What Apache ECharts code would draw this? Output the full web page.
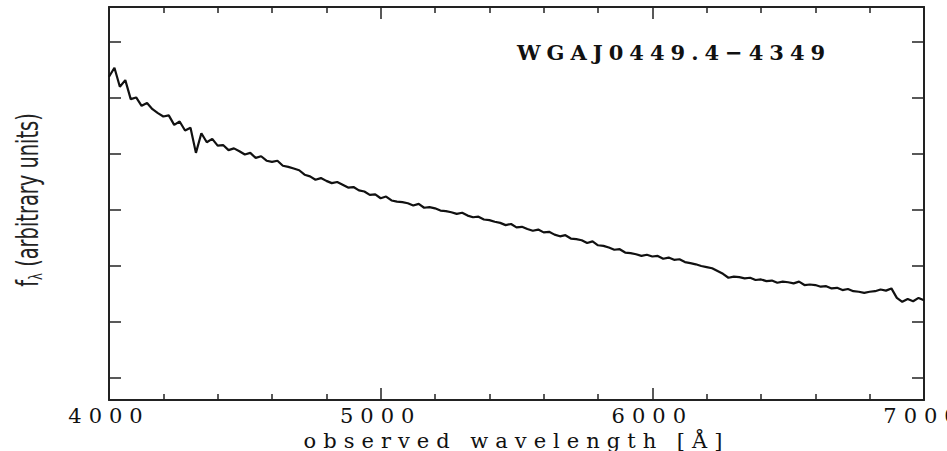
<!DOCTYPE html>
<html>
<head>
<meta charset="utf-8">
<script src="https://cdn.jsdelivr.net/npm/echarts@6/dist/echarts.min.js"></script>
<style>
html, body { margin: 0; padding: 0; background: #fff; }
#main { width: 947px; height: 451px; }
#main text[style*="xlbl"], #main text[font-family*="xlbl"] { letter-spacing: 7px; }
#main text[style*="xnm"], #main text[font-family*="xnm"] { letter-spacing: 7px; }
#main text[style*="ttl"], #main text[font-family*="ttl"] { letter-spacing: 6px; }
</style>
</head>
<body>
<div id="main"></div>
<script>
// ---- data ----
const objectName = 'WGAJ0449.4\u22124349';
const xAxisTitle = 'observed wavelength [\u00c5]';
const yAxisTitle = ['f', '\u03bb', ' (arbitrary units)'];
const xTickValues = [4000, 5000, 6000, 7000];
const xTickLabels = ['4000', '5000', '6000', '7000'];
const yTickValues = [0, 1, 2, 3, 4, 5, 6];
const lambdaStart = 4000;
const lambdaStep = 20;
const flux = [
  5.38, 5.54, 5.20, 5.32, 4.98, 5.01, 4.86, 4.91, 4.80, 4.73,
  4.67, 4.69, 4.52, 4.58, 4.42, 4.47, 4.02, 4.37, 4.21, 4.27,
  4.15, 4.16, 4.07, 4.10, 4.05, 3.99, 4.02, 3.93, 3.96, 3.88,
  3.86, 3.88, 3.79, 3.77, 3.74, 3.71, 3.63, 3.60, 3.54, 3.57,
  3.52, 3.48, 3.50, 3.45, 3.40, 3.41, 3.35, 3.33, 3.27, 3.28,
  3.21, 3.24, 3.17, 3.15, 3.14, 3.12, 3.08, 3.11, 3.04, 3.05,
  3.03, 2.99, 2.98, 2.96, 2.93, 2.95, 2.90, 2.87, 2.88, 2.83,
  2.82, 2.79, 2.77, 2.73, 2.75, 2.69, 2.70, 2.66, 2.63, 2.65,
  2.60, 2.61, 2.56, 2.53, 2.55, 2.49, 2.48, 2.46, 2.41, 2.44,
  2.37, 2.36, 2.33, 2.29, 2.30, 2.24, 2.23, 2.21, 2.18, 2.20,
  2.17, 2.18, 2.13, 2.15, 2.11, 2.12, 2.07, 2.05, 2.03, 2.00,
  1.98, 1.96, 1.91, 1.86, 1.79, 1.81, 1.80, 1.78, 1.79, 1.75,
  1.76, 1.73, 1.74, 1.70, 1.72, 1.71, 1.69, 1.72, 1.66, 1.67,
  1.66, 1.63, 1.64, 1.60, 1.61, 1.57, 1.59, 1.55, 1.54, 1.52,
  1.54, 1.55, 1.58, 1.56, 1.60, 1.43, 1.36, 1.41, 1.37, 1.43,
  1.39
];
// -------------------------------------

const seriesData = flux.map((v, i) => [lambdaStart + i * lambdaStep, v]);

const axisColor = '#222';
const chart = echarts.init(document.getElementById('main'), null, { renderer: 'svg' });

const xCommon = {
  type: 'value', min: 4000, max: 7000, interval: 1000,
  axisLine: { show: true, onZero: false, lineStyle: { color: axisColor, width: 2 } },
  axisTick: { show: true, inside: true, length: 12, lineStyle: { color: axisColor, width: 1.5 } },
  minorTick: { show: true, splitNumber: 5, length: 6, lineStyle: { color: axisColor, width: 1.5 } },
  splitLine: { show: false }, minorSplitLine: { show: false }
};
const yCommon = {
  type: 'value', min: -0.393, max: 6.625,
  axisLine: { show: true, onZero: false, lineStyle: { color: axisColor, width: 2 } },
  axisTick: { show: true, inside: true, length: 12, customValues: yTickValues, lineStyle: { color: axisColor, width: 1.5 } },
  axisLabel: { show: false },
  splitLine: { show: false }
};

chart.setOption({
  animation: false,
  backgroundColor: '#fff',
  grid: { left: 109, right: 23, top: 7, bottom: 51, containLabel: false, outerBoundsMode: 'none' },
  xAxis: [
    Object.assign({}, xCommon, {
      position: 'bottom',
      name: xAxisTitle, nameLocation: 'middle', nameGap: 24,
      nameTextStyle: { fontFamily: "'DejaVu Serif', xnm", fontSize: 21, color: '#111' },
      axisLabel: {
        show: true, margin: 5, color: '#111', fontSize: 21,
        fontFamily: "'DejaVu Serif', xlbl",
        formatter: v => xTickLabels[xTickValues.indexOf(v)] || ''
      }
    }),
    Object.assign({}, xCommon, { position: 'top', axisLabel: { show: false } })
  ],
  yAxis: [
    Object.assign({}, yCommon, { position: 'left' }),
    Object.assign({}, yCommon, { position: 'right' })
  ],
  graphic: [
    {
      type: 'text', x: 517, y: 52,
      style: {
        text: objectName, fill: '#111', fontSize: 21, fontWeight: 'bold',
        fontFamily: "'DejaVu Serif', ttl", textAlign: 'left', textVerticalAlign: 'middle'
      }
    },
    {
      type: 'text', x: 28, y: 200, rotation: Math.PI / 2, scaleX: 0.72, scaleY: 1,
      style: {
        text: '{a|' + yAxisTitle[0] + '}{b|' + yAxisTitle[1] + '}{a|' + yAxisTitle[2] + '}',
        fill: '#222', textAlign: 'center', textVerticalAlign: 'middle',
        rich: {
          a: { fontSize: 30, fontFamily: "'DejaVu Sans Condensed', 'DejaVu Sans', sans-serif", fill: '#222' },
          b: { fontSize: 18, fontFamily: "'DejaVu Sans Condensed', 'DejaVu Sans', sans-serif", fill: '#222', padding: [16, 0, 0, 0] }
        }
      }
    }
  ],
  series: [{
    type: 'line', xAxisIndex: 0, yAxisIndex: 0,
    data: seriesData, showSymbol: false, symbol: 'none',
    lineStyle: { color: '#111', width: 2.2 }
  }]
});
</script>
</body>
</html>
